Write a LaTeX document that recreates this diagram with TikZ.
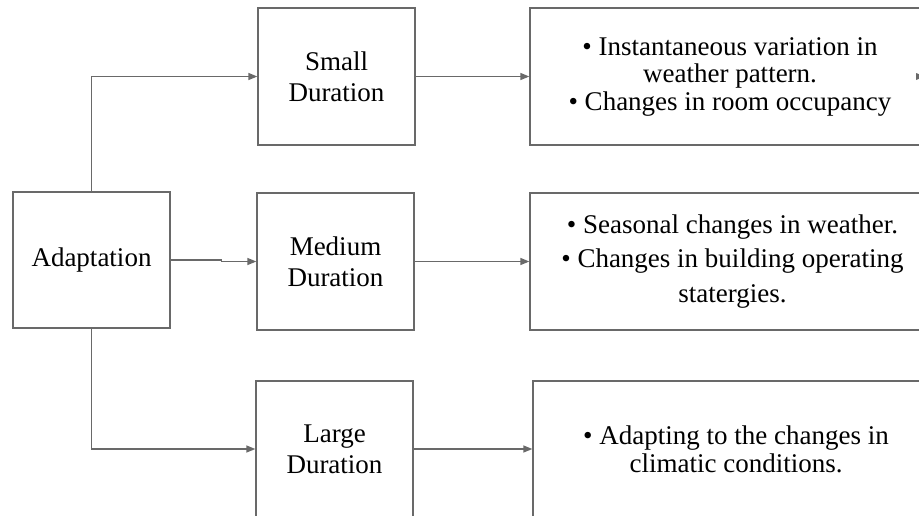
\documentclass[tikz,border=0pt]{standalone}
\usepackage{fontspec}
\setmainfont{Liberation Serif}
\usetikzlibrary{arrows.meta}
\definecolor{lc}{RGB}{105,105,105}
\begin{document}
\begin{tikzpicture}[x=1pt,y=-1pt,
  box/.style={draw=lc, line width=1.3pt, rectangle, inner sep=0pt, align=center},
  mid/.style={box, minimum width=157pt, font=\fontsize{27}{31}\selectfont},
  conn/.style={draw=lc, line width=1.3pt, -{Triangle[length=9pt,width=7pt]}}]
\useasboundingbox (0,0) rectangle (919,515);
\clip (0,0) rectangle (919,515);
% left
\node[mid, minimum height=136pt] (ad) at (91.5,260) {Adaptation};
% middle
\node[mid, minimum height=137pt] (sm) at (336.5,76.5) {Small\\Duration};
\node[mid, minimum height=137pt] (md) at (335.5,261.5) {Medium\\Duration};
\node[mid, minimum height=136pt] (lg) at (334.5,449) {Large\\Duration};
% right
\node[box, minimum width=400pt, minimum height=137pt, font=\fontsize{27}{27.5}\selectfont] (r1) at (730,76.5)
  {• Instantaneous variation in\\weather pattern.\\• Changes in room occupancy};
\node[box, minimum width=405pt, minimum height=137pt, font=\fontsize{27}{34.5}\selectfont] (r2) at (732.5,261.5)
  {• Seasonal changes in weather.\\• Changes in building operating\\statergies.};
\node[box, minimum width=406pt, minimum height=136pt, font=\fontsize{27}{28}\selectfont] (r3) at (736,449)
  {• Adapting to the changes in\\climatic conditions.};
% connectors
\draw[conn] (ad.north) |- (sm.west);
\draw[conn] (ad.east) -- ++(51,0) |- (md.west);
\draw[conn] (ad.south) |- (lg.west);
\draw[conn] (sm.east) -- (r1.west);
\draw[conn] (md.east) -- (r2.west);
\draw[conn] (lg.east) -- (r3.west);
% partial arrow tip at the right edge
\fill[lc] (916,73) -- (925,76.5) -- (916,80) -- cycle;
\end{tikzpicture}
\end{document}
